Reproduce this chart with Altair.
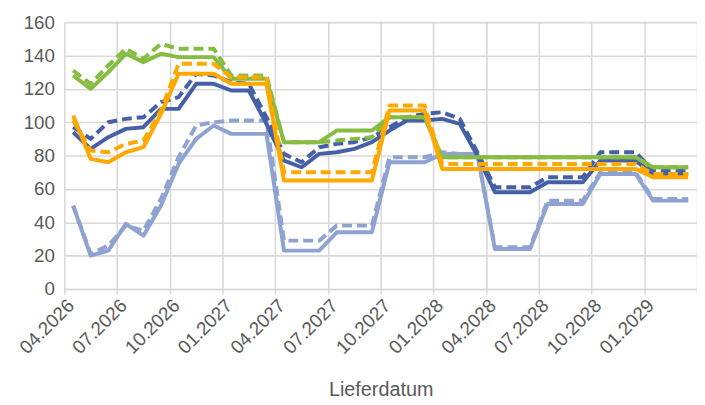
import altair as alt
import pandas as pd

# Monthly delivery dates 04.2026 .. 03.2029 (36 months)
months = [f"{(3 + i) % 12 + 1:02d}.{2026 + (3 + i) // 12}" for i in range(36)]
quarter_labels = months[::3]

green_solid = [128, 120, 130, 141, 136, 141, 139, 139, 139, 126, 126, 126,
               88, 88, 88, 95, 95, 95, 103, 103, 103, 79, 79, 79,
               79, 79, 79, 79, 79, 79, 79, 79, 79, 73, 73, 73]
green_dashed = [131, 123, 134, 144, 138, 147, 144, 144, 144, 128, 128, 128,
                88, 88, 88, 89, 90, 91, 103, 103, 103, 79, 79, 79,
                79, 79, 79, 79, 79, 79, 79, 79, 79, 73, 73, 73]
blue_solid = [94, 84, 91, 96, 97, 108, 108, 123, 123, 119, 119, 99,
              77, 73, 81, 82, 84, 88, 95, 101, 101, 102, 99, 80,
              58, 58, 58, 64, 64, 64, 77, 77, 77, 69, 69, 69]
blue_dashed = [97, 90, 100, 102, 103, 112, 115, 129, 128, 124, 123, 103,
               81, 76, 85, 87, 88, 91, 97, 103, 105, 106, 102, 82,
               61, 61, 61, 67, 67, 67, 82, 82, 82, 71, 71, 71]
orange_solid = [104, 78, 76, 82, 85, 105, 129, 129, 129, 123, 123, 123,
                65, 65, 65, 65, 65, 65, 107, 107, 107, 72, 72, 72,
                72, 72, 72, 72, 72, 72, 72, 72, 72, 67, 67, 67]
orange_dashed = [101, 83, 82, 87, 89, 107, 135, 135, 135, 127, 127, 127,
                 70, 70, 70, 70, 70, 70, 110, 110, 110, 75, 75, 75,
                 75, 75, 75, 75, 75, 75, 75, 75, 75, 69, 69, 69]
light_solid = [50, 20, 23, 39, 32, 50, 75, 90, 98, 93, 93, 93,
               23, 23, 23, 34, 34, 34, 76, 76, 76, 81, 81, 81,
               24, 24, 24, 51, 51, 51, 69, 69, 69, 53, 53, 53]
light_dashed = [50, 21, 26, 38, 35, 54, 79, 98, 100, 101, 101, 101,
                29, 29, 29, 38, 38, 38, 79, 79, 79, 82, 81, 81,
                25, 25, 25, 53, 53, 53, 70, 70, 70, 54, 54, 54]

series = [
    ("Hellblau", light_solid, "#8FA3D2", None),
    ("Hellblau (Vorwoche)", light_dashed, "#8FA3D2", [10, 5]),
    ("Dunkelblau", blue_solid, "#4660A8", None),
    ("Dunkelblau (Vorwoche)", blue_dashed, "#4660A8", [10, 5]),
    ("Grün", green_solid, "#86BC42", None),
    ("Grün (Vorwoche)", green_dashed, "#86BC42", [10, 5]),
    ("Orange", orange_solid, "#FFA800", None),
    ("Orange (Vorwoche)", orange_dashed, "#FFA800", [10, 5]),
]

rows = []
for name, vals, _, _ in series:
    for i, v in enumerate(vals):
        rows.append({"serie": name, "idx": i, "monat": months[i], "wert": v})
df = pd.DataFrame(rows)

ql = ",".join(f"'{s}'" for s in quarter_labels)
label_expr = f"datum.value < 35 ? [{ql}][round((datum.value + 0.5) / 3)] : ''"

FONT = "Liberation Sans"
GREY = "#595959"
GRID = "#D9D9D9"

base = alt.Chart(df).encode(
    x=alt.X(
        "idx:Q",
        scale=alt.Scale(domain=[-0.5, 35.5], nice=False, zero=False),
        axis=alt.Axis(
            values=[-0.5 + 3 * k for k in range(13)],
            labelExpr=label_expr,
            title="Lieferdatum",
            grid=True,
            gridColor=GRID,
            gridWidth=1.6,
            domainColor=GRID,
            domainWidth=1.6,
            tickColor=GRID,
            tickWidth=1.6,
            tickSize=5,
            labelAngle=315,
            labelAlign="right",
            labelBaseline="top",
            labelPadding=2,
            labelFont=FONT,
            labelFontSize=19,
            labelColor=GREY,
            labelOverlap=False,
            titleFont=FONT,
            titleFontSize=20,
            titleFontWeight="normal",
            titleColor=GREY,
            titlePadding=23,
        ),
    ),
    y=alt.Y(
        "wert:Q",
        scale=alt.Scale(domain=[0, 160], nice=False),
        axis=alt.Axis(
            values=list(range(0, 161, 20)),
            title=None,
            ticks=False,
            domain=False,
            grid=True,
            gridColor=GRID,
            gridWidth=1.6,
            labelPadding=10,
            labelFont=FONT,
            labelFontSize=19,
            labelColor=GREY,
        ),
    ),
)

layers = []
for name, _, color, dash in series:
    kwargs = dict(color=color, strokeWidth=4, strokeJoin="round")
    if dash is not None:
        kwargs["strokeDash"] = dash
    layers.append(base.transform_filter(alt.datum.serie == name).mark_line(**kwargs))

chart = (
    alt.layer(*layers)
    .properties(
        width=640,
        height=270,
        autosize=alt.AutoSizeParams(type="none"),
        padding={"left": 57, "top": 12, "right": 0, "bottom": 110},
    )
    .configure_view(stroke=None)
)

chart.save("out.html", embed_options={"renderer": "svg", "actions": False})
